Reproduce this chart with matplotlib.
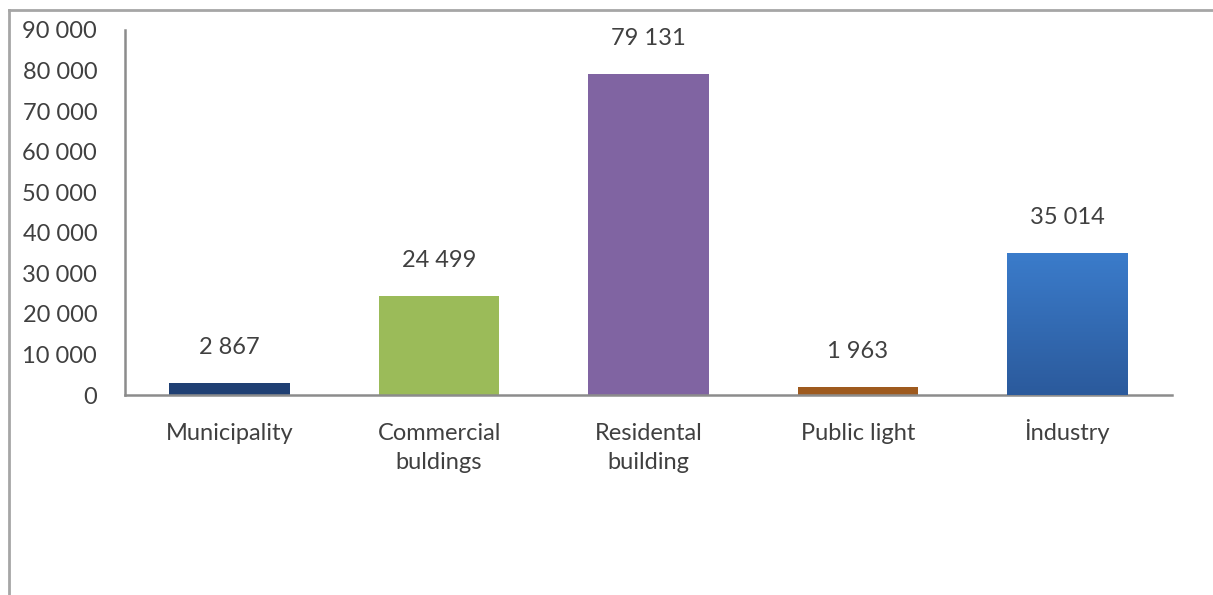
import matplotlib

matplotlib.use("Agg")
import matplotlib.pyplot as plt
import matplotlib.transforms as mtransforms
import numpy as np
from matplotlib.lines import Line2D
from matplotlib.ticker import FuncFormatter

categories = ["Municipality", "Commercial\nbuldings", "Residental\nbuilding", "Public light", "İndustry"]
values = [2867, 24499, 79131, 1963, 35014]
colors = ["#1F3F73", "#9BBB59", "#8064A2", "#9E5A1E", "#3773C2"]
yticks = [0, 10000, 20000, 30000, 40000, 50000, 60000, 70000, 80000, 90000]

TXT = "#404040"
FS = 17
plt.rcParams["font.family"] = ["Lato", "DejaVu Sans"]


def spaced(v, _pos=None):
    return f"{int(v):,}".replace(",", " ")


W, H = 1213, 595
fig = plt.figure(figsize=(W / 100, H / 100), dpi=100)
ax = fig.add_axes([125 / W, 1 - 395 / H, (1172 - 125) / W, (395 - 30) / H])

x = np.arange(len(values))
bars = ax.bar(x, values, width=0.575, color=colors, zorder=2)

# vertical gradient on the last bar, lighter at the top
ind = bars[-1]
grad = np.linspace(0, 1, 256).reshape(-1, 1)
cmap = matplotlib.colors.LinearSegmentedColormap.from_list("ind", ["#2B5A9C", "#3B7CCB"])
x0, w = ind.get_x(), ind.get_width()
img = ax.imshow(grad, extent=[x0, x0 + w, 0, ind.get_height()], origin="lower",
                aspect="auto", cmap=cmap, zorder=3)
img.set_clip_path(ind)

for xi, v in zip(x, values):
    ax.annotate(spaced(v), (xi, v), xytext=(0, 18), textcoords="offset points",
                ha="center", va="bottom", fontsize=FS, color=TXT)

ax.set_xlim(-0.5, len(values) - 0.5)
ax.set_ylim(0, 90000)
ax.set_yticks(yticks)
ax.yaxis.set_major_formatter(FuncFormatter(spaced))
ax.set_xticks(x)
ax.set_xticklabels(categories, fontsize=FS, color=TXT, linespacing=1.5)
ax.tick_params(axis="y", length=0, pad=20, labelsize=FS, labelcolor=TXT)
ax.tick_params(axis="x", length=0, pad=20)

# the dotted capital I makes this label sit lower; nudge it back onto the line
lbl = ax.get_xticklabels()[-1]
lbl.set_transform(lbl.get_transform() + mtransforms.ScaledTranslation(0, 4 / 100, fig.dpi_scale_trans))

for side in ("top", "right"):
    ax.spines[side].set_visible(False)
for side in ("left", "bottom"):
    ax.spines[side].set_color("#8C8C8C")
    ax.spines[side].set_linewidth(1.8)

# outer chart frame
fig.add_artist(Line2D([9 / W, 9 / W], [0, 1 - 10 / H], color="#A6A6A6", lw=2,
                      transform=fig.transFigure))
fig.add_artist(Line2D([9 / W, 1], [1 - 10 / H, 1 - 10 / H], color="#A6A6A6", lw=2,
                      transform=fig.transFigure))

fig.savefig("out.png", dpi=100)
